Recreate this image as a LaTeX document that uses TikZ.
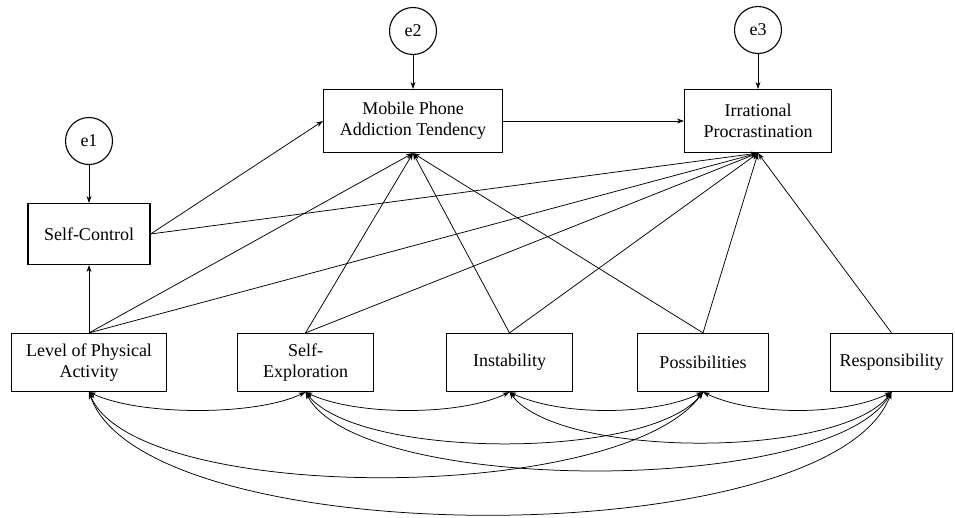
\documentclass[tikz,border=0pt]{standalone}
\usepackage{fontspec}
\setmainfont{Liberation Serif}
\usetikzlibrary{arrows.meta}
\newcommand{\lblfont}{\fontsize{18}{21}\selectfont}
\tikzset{
  box/.style={draw, line width=1.2pt, inner sep=0pt, align=center, font=\lblfont, minimum height=#1},
  box/.default=60pt,
  err/.style={circle, draw, line width=1.1pt, minimum size=47pt, inner sep=0pt, font=\lblfont},
  arr/.style={-{Stealth[length=7pt,width=5pt]}, line width=0.75pt},
  cov/.style={{Stealth[length=7pt,width=5pt]}-{Stealth[length=7pt,width=5pt]}, line width=0.75pt}
}
\begin{document}
\begin{tikzpicture}[x=1pt,y=-1pt]
\useasboundingbox (0,0) rectangle (955,517);
% error terms
\node[err] (e1) at (89,141) {e1};
\node[err] (e2) at (413,31) {e2};
\node[err] (e3) at (758,30) {e3};
% upper boxes
\node[box=61pt, minimum width=122pt] (sc) at (89,234) {Self-Control};
\node[box=63pt, minimum width=179pt] (mpat) at (413,121) {Mobile Phone\\Addiction Tendency};
\node[box=63pt, minimum width=147pt] (ip) at (758,121) {Irrational\\Procrastination};
% lower boxes
\node[box=58pt, minimum width=155pt] (lpa) at (89,362.5) {Level of Physical\\Activity};
\node[box=58pt, minimum width=136pt] (se) at (305.5,362.5) {Self-\\Exploration};
\node[box=58pt, minimum width=126pt] (inst) at (509.5,362.5) {Instability};
\node[box=58pt, minimum width=131pt] (poss) at (703,362.5) {Possibilities};
\node[box=58pt, minimum width=122pt] (resp) at (891.5,362.5) {Responsibility};
% error arrows
\draw[arr] (e1) -- (sc);
\draw[arr] (e2) -- (mpat);
\draw[arr] (e3) -- (ip);
% structural paths
\draw[arr] (mpat) -- (ip);
\draw[arr] (sc.east) -- (mpat.west);
\draw[arr] (sc.east) -- (ip.south);
\draw[arr] (lpa.north) -- (sc.south);
\draw[arr] (lpa.north) -- (mpat.south);
\draw[arr] (lpa.north) -- (ip.south);
\draw[arr] (se.north) -- (mpat.south);
\draw[arr] (se.north) -- (ip.south);
\draw[arr] (inst.north) -- (mpat.south);
\draw[arr] (inst.north) -- (ip.south);
\draw[arr] (poss.north) -- (mpat.south);
\draw[arr] (poss.north) -- (ip.south);
\draw[arr] (resp.north) -- (ip.south);
% covariances
\draw[cov] (lpa.south) .. controls (140,416) and (256,416) .. (se.south);
\draw[cov] (se.south) .. controls (356,416) and (460,416) .. (inst.south);
\draw[cov] (inst.south) .. controls (560,416) and (653,416) .. (poss.south);
\draw[cov] (poss.south) .. controls (753,416) and (843,416) .. (resp.south);
\draw[cov] (se.south) .. controls (360,460) and (650,460) .. (poss.south);
\draw[cov] (inst.south) .. controls (560,459) and (840,459) .. (resp.south);
\draw[cov] (se.south) .. controls (360,496) and (830,496) .. (resp.south);
\draw[cov] (lpa.south) .. controls (135,505) and (620,505) .. (poss.south);
\draw[cov] (lpa.south) .. controls (145,555) and (830,555) .. (resp.south);
\end{tikzpicture}
\end{document}
